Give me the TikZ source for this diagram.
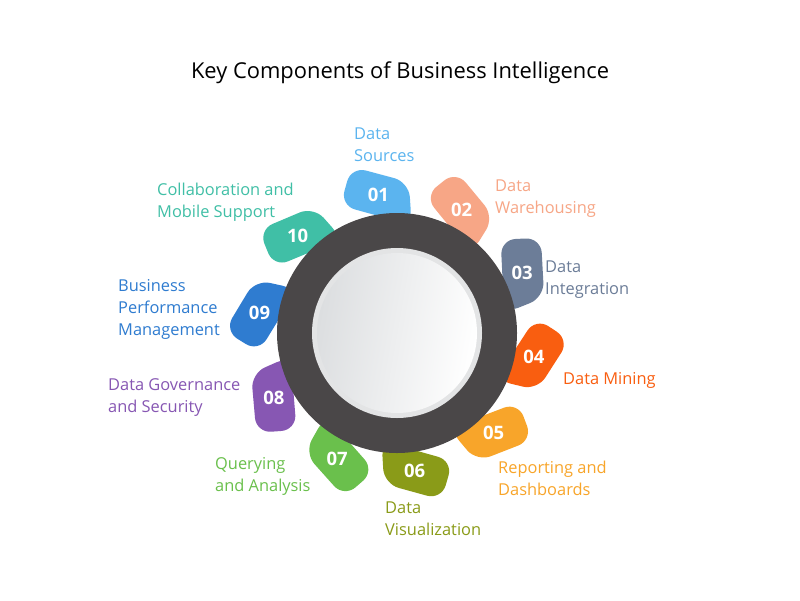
\documentclass[tikz,border=0pt]{standalone}
\usepackage{fontspec}
\setmainfont{Open Sans}
\definecolor{c1}{HTML}{5BB4EF}
\definecolor{c2}{HTML}{F7A686}
\definecolor{c3}{HTML}{6C7D98}
\definecolor{c4}{HTML}{F95E10}
\definecolor{c5}{HTML}{F8A52A}
\definecolor{c6}{HTML}{8A9B18}
\definecolor{c7}{HTML}{6AC04C}
\definecolor{c8}{HTML}{8757B3}
\definecolor{c9}{HTML}{2F7CD0}
\definecolor{c10}{HTML}{40BFA6}
\definecolor{ringc}{HTML}{4A4748}
\definecolor{edgec}{HTML}{E3E4E5}
\definecolor{shadec}{HTML}{DCDEE0}
\begin{document}
\begin{tikzpicture}[x=1pt,y=-1pt,
  num/.style={text=white,inner sep=0pt,font=\bfseries\fontsize{18.5}{20}\selectfont},
  lab/.style={anchor=base west,inner sep=0pt,align=left,font=\fontsize{16.4}{22}\selectfont}]
\useasboundingbox (0,0) rectangle (800,600);
\fill[white] (0,0) rectangle (800,600);
\node[anchor=base,inner sep=0pt,font=\fontsize{21.9}{26}\selectfont] (title) at (400,78) {Key Components of Business Intelligence};
% petals
\foreach \ang/\col/\n in {97.7/c1/01, 62.3/c2/02, 25.8/c3/03, -10/c4/04, -46/c5/05, -82.7/c6/06, -115.5/c7/07, -152.3/c8/08, 171.6/c9/09, 135.6/c10/10}{
  \begin{scope}[shift={(397,333)}, rotate=\ang]
    \fill[\col, rounded corners=15pt] (171,-23) -- (148,32) -- (105,29) -- (134,-39) -- cycle;
  \end{scope}
}
% ring
\fill[ringc] (397,333) circle[radius=120];
\fill[edgec] (397,333) circle[radius=85];
\shade[left color=shadec, right color=white, shading angle=80] (397,333) circle[radius=80];
% numbers
\foreach \ang/\n in {97.7/01, 62.3/02, 25.8/03, -10/04, -46/05, -82.7/06, -115.5/07, -152.3/08, 171.6/09, 135.6/10}{
  \begin{scope}[shift={(397,333)}, rotate=\ang]
    \node[num] (n\n) at (139,0) {\n};
  \end{scope}
}
% labels (anchor is the baseline of the last line)
\node[lab, text=c1] (l1) at (354,161) {Data\\Sources};
\node[lab, text=c2] (l2) at (495,213) {Data\\Warehousing};
\node[lab, text=c3] (l3) at (545,294) {Data\\Integration};
\node[lab, text=c4] (l4) at (563,384) {Data Mining};
\node[lab, text=c5] (l5) at (498,495) {Reporting and\\Dashboards};
\node[lab, text=c6] (l6) at (385,535) {Data\\Visualization};
\node[lab, text=c7] (l7) at (215,491) {Querying\\and Analysis};
\node[lab, text=c8] (l8) at (108,412) {Data Governance\\and Security};
\node[lab, text=c9] (l9) at (118,335) {Business\\Performance\\Management};
\node[lab, text=c10] (l10) at (157,217) {Collaboration and\\Mobile Support};
\end{tikzpicture}
\end{document}
